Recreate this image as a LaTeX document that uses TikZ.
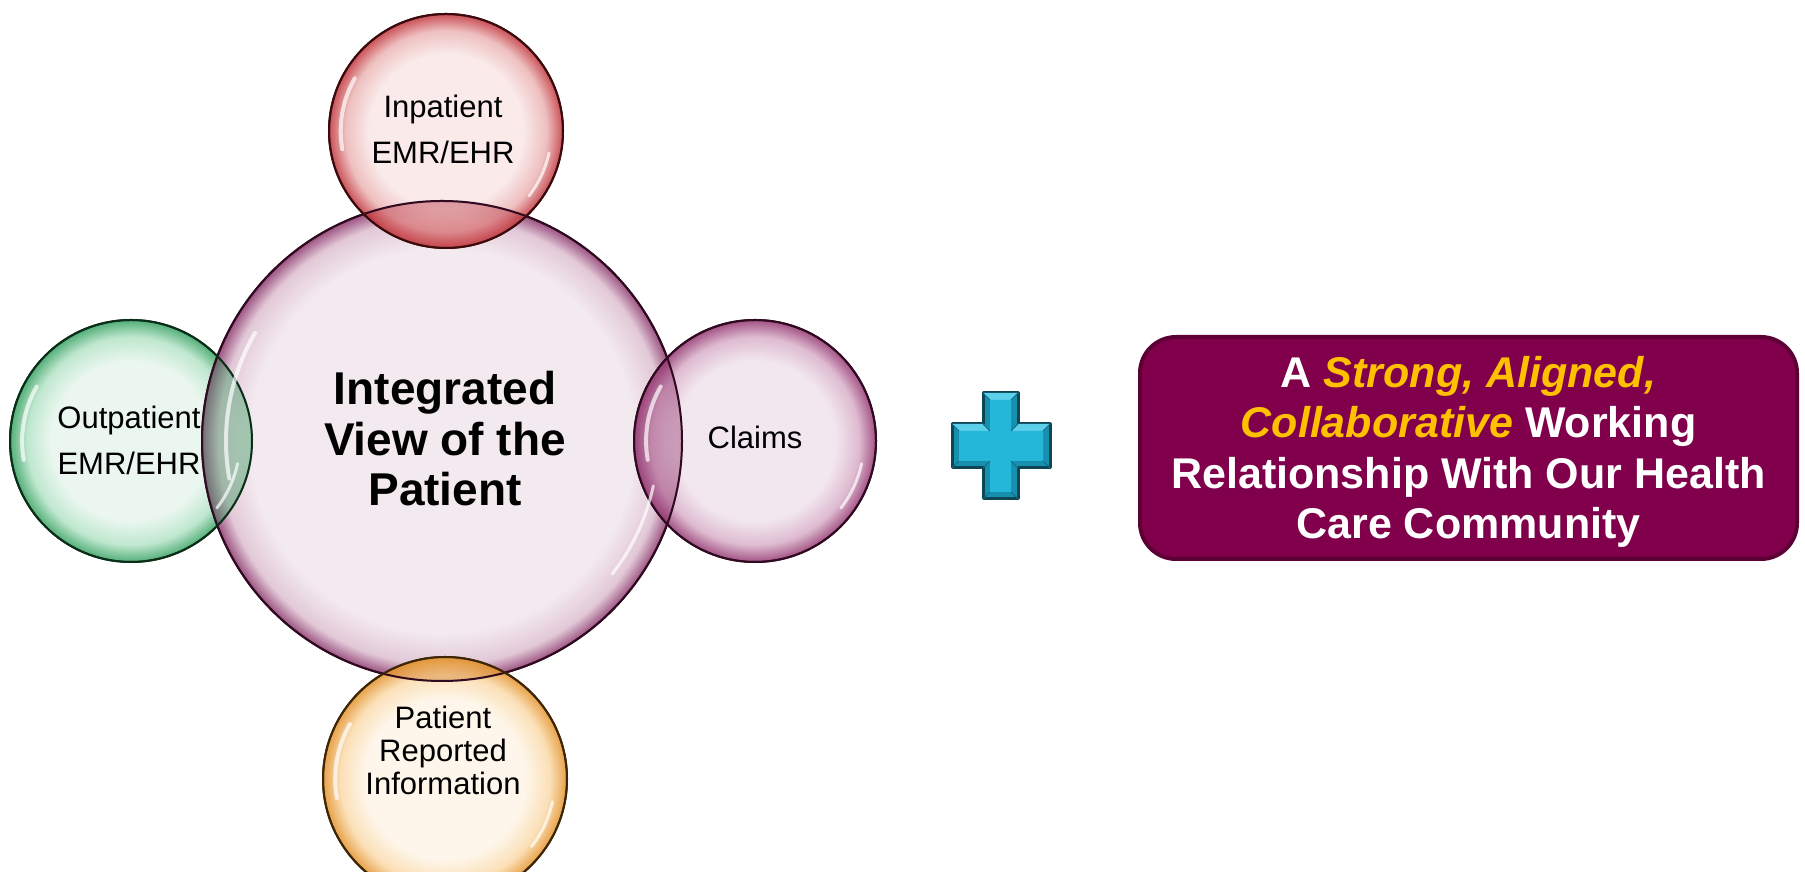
\documentclass[tikz,border=0pt]{standalone}
\usepackage{fontspec}
\setmainfont{Liberation Sans}
\usetikzlibrary{calc}
\definecolor{cenIn}{HTML}{F1E6EC}\definecolor{cenMid}{HTML}{DDBFD0}\definecolor{cenOut}{HTML}{8A356B}
\definecolor{clmIn}{HTML}{F0E3EC}\definecolor{clmMid}{HTML}{D8AFC8}\definecolor{clmOut}{HTML}{93346F}
\definecolor{redIn}{HTML}{F9E6E6}\definecolor{redMid}{HTML}{EBB4B4}\definecolor{redOut}{HTML}{C0323A}
\definecolor{grnIn}{HTML}{E6F5EC}\definecolor{grnMid}{HTML}{B4E3C6}\definecolor{grnOut}{HTML}{35A061}
\definecolor{orgIn}{HTML}{FEF4E6}\definecolor{orgMid}{HTML}{FADAAA}\definecolor{orgOut}{HTML}{E39028}
\definecolor{purBorder}{HTML}{300A20}\definecolor{redBorder}{HTML}{3A0A0C}
\definecolor{grnBorder}{HTML}{0A2E18}\definecolor{orgBorder}{HTML}{3D2606}
\definecolor{boxFill}{HTML}{80004C}\definecolor{boxBorder}{HTML}{5C0036}
\definecolor{gold}{HTML}{FFC000}
\definecolor{crossDark}{HTML}{0E4656}\definecolor{crossMid}{HTML}{1790B0}\definecolor{crossIn}{HTML}{25B7DA}
\definecolor{crossLight}{HTML}{5CCFEA}
\pgfdeclareradialshading{bubCen}{\pgfpoint{0bp}{0bp}}{color(0bp)=(cenIn); color(20bp)=(cenIn); color(23.3bp)=(cenMid); color(25bp)=(cenOut); color(50bp)=(cenOut)}
\pgfdeclareradialshading{bubClm}{\pgfpoint{0bp}{0bp}}{color(0bp)=(clmIn); color(16.5bp)=(clmIn); color(21.5bp)=(clmMid); color(25bp)=(clmOut); color(50bp)=(clmOut)}
\pgfdeclareradialshading{bubRed}{\pgfpoint{0bp}{0bp}}{color(0bp)=(redIn); color(16.5bp)=(redIn); color(21.5bp)=(redMid); color(25bp)=(redOut); color(50bp)=(redOut)}
\pgfdeclareradialshading{bubGrn}{\pgfpoint{0bp}{0bp}}{color(0bp)=(grnIn); color(16.5bp)=(grnIn); color(21.5bp)=(grnMid); color(25bp)=(grnOut); color(50bp)=(grnOut)}
\pgfdeclareradialshading{bubOrg}{\pgfpoint{0bp}{0bp}}{color(0bp)=(orgIn); color(16.5bp)=(orgIn); color(21.5bp)=(orgMid); color(25bp)=(orgOut); color(50bp)=(orgOut)}
\tikzset{
  bubble/.style={circle, inner sep=0pt, outer sep=0pt, shade, line width=2pt, fill opacity=0.85, text opacity=1},
  smalltext/.style={align=center, font=\fontsize{31}{46}\selectfont, text=black, inner sep=0pt},
  gloss/.style={white, line width=4pt, line cap=round, opacity=0.7},
}
\begin{document}
\begin{tikzpicture}[x=1pt,y=1pt]
\useasboundingbox (0,0) rectangle (1805,872);
% green (behind central)
\node[bubble, shading=bubGrn, draw=grnBorder, minimum size=242pt] (grn) at (131,431) {};
\node[smalltext] (grnT) at (129,432) {Outpatient\\EMR/EHR};
% central
\node[bubble, shading=bubCen, draw=purBorder, minimum size=480pt] (cen) at (442,431) {};
\node[align=center, font=\fontsize{46}{50.5}\selectfont\bfseries, inner sep=0pt] (cenT) at (445,433) {Integrated\\View of the\\Patient};
% satellites
\node[bubble, shading=bubRed, draw=redBorder, minimum size=234pt] (red) at (446,741) {};
\node[smalltext] (redT) at (443,743) {Inpatient\\EMR/EHR};
\node[bubble, shading=bubClm, draw=purBorder, minimum size=242pt] (clm) at (755,431) {};
\node[smalltext] (clmT) at (755,435) {Claims};
\node[bubble, shading=bubOrg, draw=orgBorder, minimum size=244pt] (org) at (445,93) {};
\node[smalltext, font=\fontsize{31}{33}\selectfont] (orgT) at (443,121.5) {Patient\\Reported\\Information};
% tinted overlap lenses
\foreach \c/\r/\col in {grn/121/grnOut, red/117/redOut, clm/121/clmOut, org/122/orgOut}{
  \begin{scope}
    \clip (\c) circle[radius=\r];
    \fill[\col, opacity=0.35] (cen) circle[radius=240];
  \end{scope}
}
% redraw outlines so both rims show in lenses
\draw[purBorder, line width=2pt] (cen) circle[radius=240];
\draw[grnBorder, line width=2pt] (grn) circle[radius=121];
\draw[redBorder, line width=2pt] (red) circle[radius=117];
\draw[purBorder, line width=2pt] (clm) circle[radius=121];
\draw[orgBorder, line width=2pt] (org) circle[radius=122];
% gloss highlights
\foreach \c/\r in {grn/121, red/117, clm/121, org/122, cen/240}{
  \draw[gloss] ($(\c)+(150:{0.9*\r})$) arc[start angle=150, end angle=190, radius={0.9*\r}];
  \draw[gloss, line width=3pt] ($(\c)+(-12:{0.9*\r})$) arc[start angle=-12, end angle=-38, radius={0.9*\r}];
}
% plus sign
\path[fill=crossMid, draw=crossDark, line width=3pt, line join=round]
  (983,479) -- (1018,479) -- (1018,448) -- (1050,448) -- (1050,404) -- (1018,404) -- (1018,373)
  -- (983,373) -- (983,404) -- (952,404) -- (952,448) -- (983,448) -- cycle;
\path[fill=crossLight] (983,479) -- (1018,479) -- (1011,472) -- (990,472) -- cycle;
\path[fill=crossLight] (952,448) -- (983,448) -- (990,441) -- (959,441) -- cycle;
\path[fill=crossLight] (1018,448) -- (1050,448) -- (1043,441) -- (1011,441) -- cycle;
\path[fill=crossIn]
  (990,472) -- (1011,472) -- (1011,441) -- (1043,441) -- (1043,411) -- (1011,411) -- (1011,380)
  -- (990,380) -- (990,411) -- (959,411) -- (959,441) -- (990,441) -- cycle;
\draw[crossDark!50!crossMid, line width=0.8pt]
  (983,479) -- (990,472) (1018,479) -- (1011,472) (1050,448) -- (1043,441) (1050,404) -- (1043,411)
  (1018,373) -- (1011,380) (983,373) -- (990,380) (952,404) -- (959,411) (952,448) -- (959,441)
  (1018,448) -- (1011,441) (1018,404) -- (1011,411) (983,404) -- (990,411) (983,448) -- (990,441);
% box
\node[draw=boxBorder, line width=4pt, fill=boxFill, rounded corners=36pt, minimum width=657pt, minimum height=222pt, inner sep=0pt] (box) at (1468.5,424) {};
\node[align=center, font=\fontsize{43}{50.5}\selectfont\bfseries, text=white, inner sep=0pt] (boxT) at (1468.5,420)
  {A \textcolor{gold}{\itshape Strong, Aligned,}\\\textcolor{gold}{\itshape Collaborative} Working\\Relationship With Our Health\\Care Community};
\end{tikzpicture}
\end{document}
